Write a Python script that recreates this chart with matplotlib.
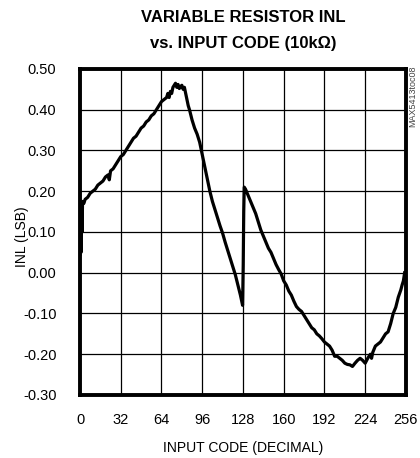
import matplotlib.pyplot as plt
from matplotlib import font_manager

# INL trace of the variable resistor, code vs LSB (rows of 10 points)
code = [0, 0.4, 0.8, 1.2, 1.6, 2, 3, 4, 6, 8,
        10, 12, 14, 16, 18, 20, 22, 23, 24, 26,
        28, 30, 32, 34, 36, 38, 40, 42, 44, 46,
        48, 50, 52, 54, 56, 58, 60, 62, 64, 66,
        68, 69, 70, 71, 72, 73, 74, 75, 76, 77,
        78, 79, 80, 81, 82, 83, 84, 85, 86, 88,
        90, 92, 94, 96, 98, 100, 102, 104, 106, 108,
        110, 112, 114, 116, 118, 120, 122, 124, 126, 127,
        127.7, 128.2, 128.6, 129, 130, 132, 134, 136, 138, 140,
        142, 144, 146, 148, 150, 152, 154, 156, 158, 160,
        162, 164, 166, 168, 170, 172, 174, 176, 178, 180,
        182, 184, 186, 188, 190, 192, 194, 196, 198, 200,
        202, 204, 206, 208, 210, 212, 214, 216, 218, 220,
        222, 224, 226, 228, 229, 230, 232, 234, 236, 238,
        240, 242, 244, 246, 248, 250, 252, 253, 254, 255]
inl = [0.045, 0.16, 0.05, 0.17, 0.10, 0.175, 0.17, 0.18, 0.185, 0.195,
       0.20, 0.205, 0.215, 0.22, 0.225, 0.235, 0.24, 0.228, 0.25, 0.255,
       0.265, 0.275, 0.285, 0.29, 0.30, 0.31, 0.32, 0.33, 0.335, 0.345,
       0.355, 0.36, 0.37, 0.375, 0.385, 0.39, 0.40, 0.41, 0.42, 0.425,
       0.43, 0.44, 0.43, 0.445, 0.44, 0.455, 0.46, 0.465, 0.455, 0.462,
       0.452, 0.457, 0.46, 0.45, 0.455, 0.44, 0.425, 0.41, 0.40, 0.375,
       0.355, 0.34, 0.32, 0.29, 0.26, 0.23, 0.20, 0.175, 0.155, 0.135,
       0.115, 0.097, 0.075, 0.055, 0.035, 0.015, -0.005, -0.03, -0.055, -0.07,
       -0.08, 0.02, 0.15, 0.21, 0.205, 0.19, 0.175, 0.16, 0.145, 0.125,
       0.105, 0.09, 0.075, 0.06, 0.05, 0.035, 0.02, 0.008, -0.003, -0.02,
       -0.03, -0.045, -0.055, -0.07, -0.083, -0.09, -0.095, -0.105, -0.115, -0.125,
       -0.135, -0.14, -0.15, -0.155, -0.162, -0.17, -0.175, -0.18, -0.19, -0.205,
       -0.205, -0.21, -0.215, -0.222, -0.225, -0.226, -0.23, -0.222, -0.215, -0.21,
       -0.215, -0.222, -0.21, -0.2, -0.21, -0.195, -0.18, -0.175, -0.17, -0.16,
       -0.15, -0.145, -0.125, -0.1, -0.085, -0.06, -0.042, -0.03, -0.02, 0.0]

x_ticks = [0, 32, 64, 96, 128, 160, 192, 224, 256]
y_ticks = [-0.30, -0.20, -0.10, 0.00, 0.10, 0.20, 0.30, 0.40, 0.50]

fams = {f.name for f in font_manager.fontManager.ttflist}
narrow = 'Liberation Sans Narrow' if 'Liberation Sans Narrow' in fams else 'Liberation Sans'
plt.rcParams['font.family'] = [narrow, 'DejaVu Sans']

fig = plt.figure(figsize=(4.2, 4.58), dpi=100)
ax = fig.add_axes([0.1905, 0.1376, 0.776, 0.7118])

ax.plot(code, inl, color='black', linewidth=2.3, solid_joinstyle='round')

ax.set_xlim(0, 256)
ax.set_ylim(-0.30, 0.50)
ax.set_xticks(x_ticks)
ax.set_yticks(y_ticks)
ax.set_xticklabels([str(t) for t in x_ticks])
ax.set_yticklabels(['%.2f' % t for t in y_ticks])
ax.tick_params(length=0, labelsize=10.5)
ax.tick_params(axis='x', pad=13)
ax.tick_params(axis='y', pad=17)
ax.grid(True, color='black', linewidth=0.9)
ax.set_axisbelow(True)
for s in ax.spines.values():
    s.set_linewidth(2.8)

ax.set_xlabel('INPUT CODE (DECIMAL)', fontsize=10, va='center')
ax.xaxis.set_label_coords(0.5, -0.163)
ax.set_ylabel('INL (LSB)', fontsize=10)
ax.yaxis.set_label_coords(-0.156, 0.485)

fig.text(0.579, 0.961, 'VARIABLE RESISTOR INL', ha='center', va='center',
         fontsize=12, fontweight='bold')
fig.text(0.579, 0.906, 'vs. INPUT CODE (10k\u03a9)', ha='center', va='center',
         fontsize=12, fontweight='bold')
fig.text(0.983, 0.856, 'MAX5413toc08', rotation=90, ha='center', va='top',
         fontsize=6.5, color='#444444')

plt.savefig('out.png', dpi=100)
